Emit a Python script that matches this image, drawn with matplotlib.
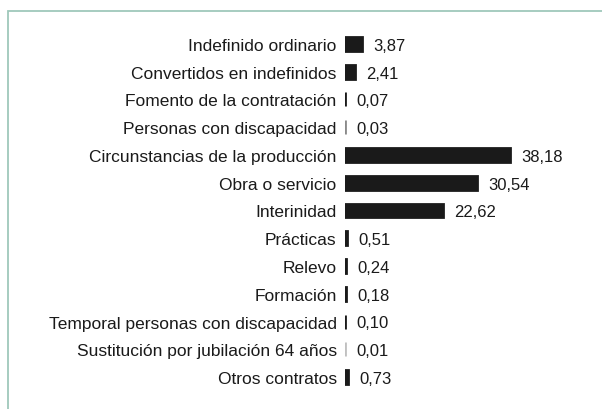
import matplotlib
matplotlib.use("Agg")
import matplotlib.pyplot as plt
from matplotlib.patches import Rectangle

categorias = [
    "Indefinido ordinario",
    "Convertidos en indefinidos",
    "Fomento de la contratación",
    "Personas con discapacidad",
    "Circunstancias de la producción",
    "Obra o servicio",
    "Interinidad",
    "Prácticas",
    "Relevo",
    "Formación",
    "Temporal personas con discapacidad",
    "Sustitución por jubilación 64 años",
    "Otros contratos",
]
valores = [3.87, 2.41, 0.07, 0.03, 38.18, 30.54, 22.62, 0.51, 0.24, 0.18, 0.10, 0.01, 0.73]
etiquetas = ["3,87", "2,41", "0,07", "0,03", "38,18", "30,54", "22,62",
             "0,51", "0,24", "0,18", "0,10", "0,01", "0,73"]

W, H = 602, 410
fig = plt.figure(figsize=(W / 100, H / 100), dpi=100)
fig.patch.set_facecolor("white")

# marco verde claro que sale por la derecha y por abajo
fig.patches.append(Rectangle((8 / W, -0.1), 1.2, 1 - 12 / H + 0.1,
                             transform=fig.transFigure, fill=False,
                             edgecolor="#9fc8bb", linewidth=1.3))

ax = fig.add_axes([345 / W, 1 - 392 / H, 245 / W, (392 - 31) / H])
y = list(range(len(categorias)))

def borde(v):
    # las barras casi nulas se ven como una raya gris
    if v < 0.02:
        return "#c0c0c0"
    if v < 0.05:
        return "#8a8a8a"
    return "#1a1a1a"

ax.barh(y, valores, height=0.5, color="#1a1a1a",
        edgecolor=[borde(v) for v in valores], linewidth=2.0)

ax.set_xlim(0, 245 / 4.32)
ax.set_ylim(len(categorias) - 0.5, -0.5)
ax.set_yticks(y)
ax.set_yticklabels(categorias, family=["Liberation Sans", "DejaVu Sans"], fontsize=12.5,
                   color="#1a1a1a")
ax.tick_params(axis="y", length=0, pad=6)
ax.set_xticks([])
for s in ax.spines.values():
    s.set_visible(False)

for yi, v, t in zip(y, valores, etiquetas):
    ax.annotate(t, (v, yi), xytext=(8, -1), textcoords="offset points",
                va="center", ha="left", fontsize=12,
                family=["Liberation Sans", "DejaVu Sans"], color="#1a1a1a")

fig.savefig("out.png", dpi=100)
